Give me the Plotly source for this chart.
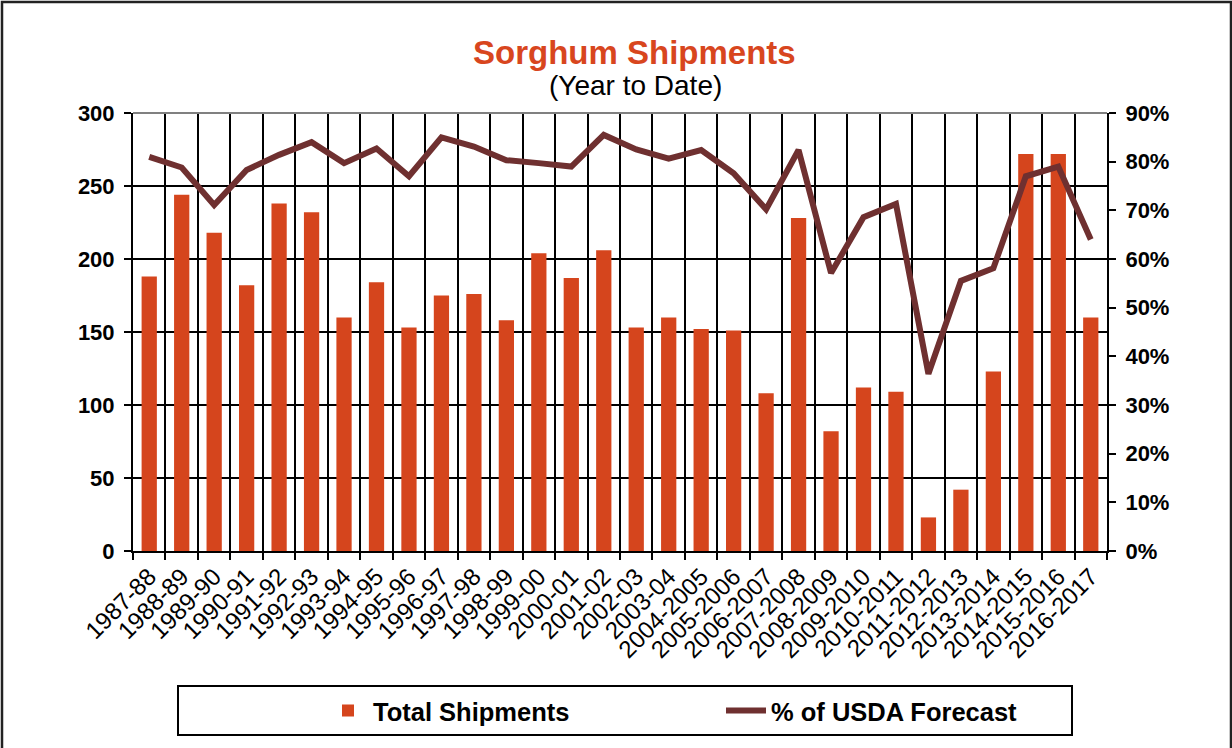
import plotly.graph_objects as go

categories = ["1987-88", "1988-89", "1989-90", "1990-91", "1991-92", "1992-93", "1993-94",
              "1994-95", "1995-96", "1996-97", "1997-98", "1998-99", "1999-00", "2000-01",
              "2001-02", "2002-03", "2003-04", "2004-2005", "2005-2006", "2006-2007",
              "2007-2008", "2008-2009", "2009-2010", "2010-2011", "2011-2012", "2012-2013",
              "2013-2014", "2014-2015", "2015-2016", "2016-2017"]

total_shipments = [188, 244, 218, 182, 238, 232, 160, 184, 153, 175, 176, 158, 204, 187,
                   206, 153, 160, 152, 151, 108, 228, 82, 112, 109, 23, 42, 123, 272, 272, 160]

pct_usda_forecast = [81.0, 78.8, 71.1, 78.3, 81.4, 84.0, 79.7, 82.7, 77.0, 85.0, 83.1, 80.3,
                     79.7, 79.0, 85.5, 82.5, 80.6, 82.4, 77.6, 70.2, 82.4, 57.1, 68.6, 71.3,
                     36.4, 55.5, 58.1, 77.0, 79.0, 64.0]
pct_values = [v / 100 for v in pct_usda_forecast]

left_ticks = [0, 50, 100, 150, 200, 250, 300]
right_ticks = [0, 0.1, 0.2, 0.3, 0.4, 0.5, 0.6, 0.7, 0.8, 0.9]

FONT = "Arial, Liberation Sans, sans-serif"
BAR_COLOR = "#D5451D"
LINE_COLOR = "#6F3030"

fig = go.Figure()
fig.add_trace(go.Bar(
    x=categories, y=total_shipments, name="Total Shipments",
    marker=dict(color=BAR_COLOR, line=dict(width=0)),
    width=0.47, legend="legend",
))
fig.add_trace(go.Scatter(
    x=categories, y=pct_values, name="% of USDA Forecast", yaxis="y2",
    mode="lines", line=dict(color=LINE_COLOR, width=6), legend="legend2",
))

# paper-coordinate helpers (plot area: x 133..1107, y 113..551)
def px(xp):
    return (xp - 133) / 974

def py(yp):
    return (551 - yp) / 438

fig.update_layout(
    width=1232, height=748,
    margin=dict(l=133, r=125, t=113, b=197),
    paper_bgcolor="white", plot_bgcolor="white",
    font=dict(family=FONT, color="black"),
    showlegend=True,
    xaxis=dict(
        type="category", tickson="boundaries", showgrid=True, gridcolor="black", gridwidth=1.5,
        ticks="outside", ticklen=7, tickcolor="black", tickwidth=1.5,
        tickangle=-45, tickfont=dict(size=24, family=FONT, color="black"),
        showline=True, linecolor="black", linewidth=2,
        range=[-0.5, len(categories) - 0.5],
    ),
    yaxis=dict(
        range=[0, 300], tickvals=left_ticks, showgrid=True, gridcolor="black", gridwidth=1.5,
        ticks="outside", ticklen=7, tickcolor="black", tickwidth=1.5,
        showline=True, linecolor="black", linewidth=2, zeroline=False,
        tickfont=dict(size=22, family=FONT, color="black", weight="bold"),
        ticklabelstandoff=5,
    ),
    yaxis2=dict(
        range=[0, 0.9], tickvals=right_ticks, tickformat=".0%", overlaying="y", side="right",
        showgrid=False, zeroline=False,
        ticks="outside", ticklen=7, tickcolor="black", tickwidth=1.5,
        showline=True, linecolor="black", linewidth=2,
        tickfont=dict(size=22, family=FONT, color="black", weight="bold"),
        ticklabelstandoff=5,
    ),
    legend=dict(
        orientation="h", x=px(323), xanchor="left", y=py(711), yanchor="middle",
        font=dict(size=25.5, family=FONT, color="black", weight="bold"),
        bgcolor="rgba(0,0,0,0)", itemwidth=40,
    ),
    legend2=dict(
        orientation="h", x=px(721), xanchor="left", y=py(711), yanchor="middle",
        font=dict(size=25.5, family=FONT, color="black", weight="bold"),
        bgcolor="rgba(0,0,0,0)", itemwidth=40,
    ),
    annotations=[
        dict(text="<b>Sorghum Shipments</b>", x=px(634), y=py(52), xref="paper", yref="paper",
             showarrow=False, xanchor="center", yanchor="middle",
             font=dict(size=33, family=FONT, color="#D8461E")),
        dict(text="(Year to Date)", x=px(635), y=py(86), xref="paper", yref="paper",
             showarrow=False, xanchor="center", yanchor="middle",
             font=dict(size=28, family=FONT, color="black")),
    ],
    shapes=[
        # outer chart border
        dict(type="rect", xref="paper", yref="paper", x0=px(2), x1=px(1231), y0=py(752), y1=py(2),
             line=dict(color="#222222", width=2.5), fillcolor="rgba(0,0,0,0)", layer="above"),
        # legend box
        dict(type="rect", xref="paper", yref="paper", x0=px(178), x1=px(1072), y0=py(735), y1=py(686),
             line=dict(color="black", width=2), fillcolor="rgba(0,0,0,0)", layer="above"),
        # top plot border (gray)
        dict(type="line", xref="paper", yref="paper", x0=0, x1=1, y0=1, y1=1,
             line=dict(color="#808080", width=2), layer="above"),
    ],
)

fig.write_html("out.html", config={"displayModeBar": False},
               post_script="document.body.style.margin='0';")
